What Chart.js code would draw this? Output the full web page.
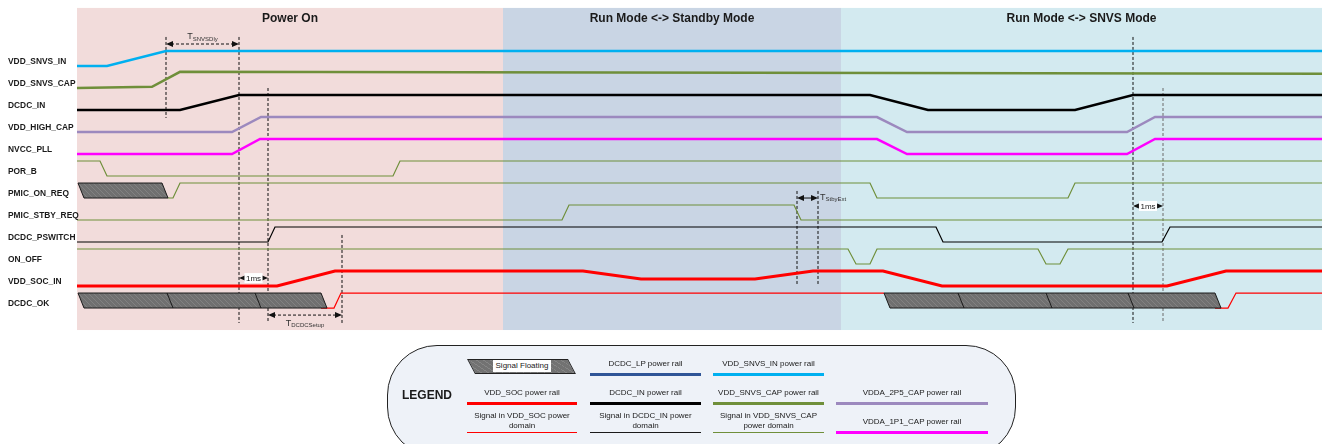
<!DOCTYPE html>
<html>
<head>
<meta charset="utf-8">
<title>Power sequencing timing</title>
<script src="https://cdn.jsdelivr.net/npm/chart.js@4.4.1/dist/chart.umd.min.js"></script>
<style>
  html, body { margin: 0; padding: 0; background: #fff; }
  #wrap { position: relative; width: 1324px; height: 444px; overflow: hidden;
          font-family: "Liberation Sans", Arial, sans-serif; color: #1a1a1a; }
  #chart { position: absolute; left: 0; top: 0; }
  .lg-box { position: absolute; left: 387px; top: 345px; width: 629px; height: 112px;
            box-sizing: border-box; border: 1px solid #222; border-radius: 50px;
            background: #eef2f8; }
  .lg-title { position: absolute; left: 395px; top: 388px; width: 64px; text-align: center;
              font-weight: bold; font-size: 12px; }
  .lg-cell { position: absolute; box-sizing: border-box; display: flex; flex-direction: column;
             justify-content: flex-end; text-align: center; font-size: 8px; line-height: 10px;
             padding-bottom: 2px; }
  .lg-float { position: absolute; left: 467px; top: 359px; width: 101px; height: 15px;
              box-sizing: border-box; border: 1px solid #222; transform-origin: top left;
              transform: skewX(28deg);
              background: repeating-linear-gradient(45deg, #727272 0 4px, #858585 4px 5px); }
  .lg-float-text { position: absolute; left: 493px; top: 360px; width: 58px; height: 12px;
                   background: #fff; font-size: 8px; line-height: 12px; text-align: center; }
</style>
</head>
<body>
<div id="wrap">
  <canvas id="chart" width="1324" height="444"></canvas>
</div>
<script>
// ---- diagram data ----
const AMP = 15 / 22;   // height of a high level, in row units
const SLANT = 6;       // lean of floating shapes, in time units

const rowLabels = [
  'VDD_SNVS_IN', 'VDD_SNVS_CAP', 'DCDC_IN', 'VDD_HIGH_CAP', 'NVCC_PLL', 'POR_B',
  'PMIC_ON_REQ', 'PMIC_STBY_REQ', 'DCDC_PSWITCH', 'ON_OFF', 'VDD_SOC_IN', 'DCDC_OK'
];

const phaseLabels = ['Power On', 'Run Mode <-> Standby Mode', 'Run Mode <-> SNVS Mode'];
const phaseEdges = [77, 503, 841, 1322];

// [time, level] : level 0 = low, 1 = high
const vddSnvsIn   = [[77,0],[107,0],[166,1],[1322,1]];
const vddSnvsCap  = [[77,0],[152,0.08],[180,1.08],[1322,0.95]];
const dcdcIn      = [[77,0],[180,0],[239,1],[870,1],[928,0],[1075,0],[1133,1],[1322,1]];
const vddHighCap  = [[77,0],[232,0],[261,1],[877,1],[907,0],[1127,0],[1155,1],[1322,1]];
const nvccPll     = [[77,0],[232,0],[260,1],[877,1],[907,0],[1127,0],[1155,1],[1322,1]];
const porB        = [[77,1],[100,1],[107,0],[393,0],[400,1],[1322,1]];
const pmicOnReq   = [[168,0],[173,0],[180,1],[870,1],[877,0],[1068,0],[1075,1],[1322,1]];
const pmicStbyReq = [[77,0],[562,0],[569,1],[794,1],[801,0],[1322,0]];
const dcdcPswitch = [[77,0],[268,0],[275,1],[936,1],[943,0],[1162,0],[1170,1],[1322,1]];
const onOff       = [[77,1],[848,1],[856,0],[870,0],[877,1],[1038,1],[1046,0],[1060,0],[1068,1],[1322,1]];
const vddSocIn    = [[77,0],[277,0],[335,1],[583,1],[641,0.47],[755,0.47],[813,1],[883,1],[942,0],[1167,0],[1226,1],[1322,1]];
const dcdcOkA     = [[321,0],[334,0],[341,1],[884,1]];
const dcdcOkB     = [[1215,0],[1228,0],[1236,1],[1322,1]];

// floating stretches: [row, [start, dividers..., end]]
const floating = [
  [6,  [78, 162]],
  [11, [78, 167, 255, 321]],
  [11, [884, 958, 1046, 1128, 1215]]
];

// dashed time markers: [time, fromRow, toRow]
const markers = [
  [166, -1.32, 2.36], [239, -1.32, 11.68], [268, 1, 11.68], [342, 7.68, 11.68],
  [797, 5.68, 9.95], [818, 5.68, 9.95], [1133, -1.32, 11.68], [1163, 1, 11.68]
];
const grayMarkers = [1163];

// timing spans: [from, to, row, text, subscript, label place]
const spans = [
  [166, 239, -1.0, 'T', 'SNVSDly', 'above'],
  [239, 268, 9.64, '1ms', '', 'box'],
  [268, 342, 11.32, 'T', 'DCDCSetup', 'below'],
  [797, 818, 6.0, 'T', 'StbyExt', 'right'],
  [1133, 1163, 6.36, '1ms', '', 'box']
];

// ---- styles ----
const PHASE_BG = ['#f2dcdb', '#c9d5e4', '#d3eaf0'];
const AREA_TOP = -2.64, AREA_BOTTOM = 12.0;
const FONT = '"Liberation Sans", Arial, sans-serif';
const C = { cyan: '#00b0f0', olive: '#6f8f3a', black: '#000', purple: '#9c89be', magenta: '#ff00ff', red: '#ff0000' };

const signals = [
  [0, vddSnvsIn, C.cyan, 2.5],
  [1, vddSnvsCap, C.olive, 2.5],
  [2, dcdcIn, C.black, 2.5],
  [3, vddHighCap, C.purple, 2.5],
  [4, nvccPll, C.magenta, 2.5],
  [5, porB, C.olive, 1.2],
  [6, pmicOnReq, C.olive, 1.2],
  [7, pmicStbyReq, C.olive, 1.2],
  [8, dcdcPswitch, C.black, 1.2],
  [9, onOff, C.olive, 1.2],
  [10, vddSocIn, C.red, 3],
  [11, dcdcOkA, C.red, 1.2],
  [11, dcdcOkB, C.red, 1.2]
];

function toPoints(row, steps) {
  return steps.map(([t, lvl]) => ({ x: t, y: row - lvl * AMP }));
}

const datasets = signals.map(([row, steps, color, width]) => ({
  data: toPoints(row, steps),
  showLine: true,
  borderColor: color,
  borderWidth: width,
  pointRadius: 0,
  fill: false,
  clip: false
}));

markers.forEach(([t, r0, r1]) => {
  datasets.push({
    data: [{ x: t, y: r0 }, { x: t, y: r1 }],
    showLine: true,
    borderColor: grayMarkers.includes(t) ? '#6a6a6a' : '#111',
    borderWidth: 1,
    borderDash: [3, 2],
    pointRadius: 0,
    fill: false
  });
});

function floatPath(ctx, x0, x1, s, yTop, yBot) {
  ctx.beginPath();
  ctx.moveTo(x0, yTop);
  ctx.lineTo(x1, yTop);
  ctx.lineTo(x1 + s, yBot);
  ctx.lineTo(x0 + s, yBot);
  ctx.closePath();
}

function arrowHead(ctx, xTip, yMid, dir) {
  ctx.beginPath();
  ctx.moveTo(xTip, yMid);
  ctx.lineTo(xTip - dir * 7, yMid - 3);
  ctx.lineTo(xTip - dir * 7, yMid + 3);
  ctx.closePath();
  ctx.fill();
}

const decor = {
  id: 'decor',
  beforeDatasetsDraw(chart) {
    const { ctx, scales: { x, y } } = chart;
    ctx.save();
    const yT = y.getPixelForValue(AREA_TOP), yB = y.getPixelForValue(AREA_BOTTOM);
    phaseLabels.forEach((label, i) => {
      const xa = x.getPixelForValue(phaseEdges[i]), xb = x.getPixelForValue(phaseEdges[i + 1]);
      ctx.fillStyle = PHASE_BG[i];
      ctx.fillRect(xa, yT, xb - xa, yB - yT);
      ctx.fillStyle = '#1a1a1a';
      ctx.font = 'bold 12px ' + FONT;
      ctx.textAlign = 'center';
      ctx.textBaseline = 'middle';
      ctx.fillText(label, (xa + xb) / 2, y.getPixelForValue(-2.14));
    });
    ctx.restore();
  },
  afterDatasetsDraw(chart) {
    const { ctx, scales: { x, y } } = chart;
    const px = t => x.getPixelForValue(t);
    ctx.save();

    // row labels
    ctx.fillStyle = '#1a1a1a';
    ctx.font = 'bold 8.4px ' + FONT;
    ctx.textAlign = 'left';
    ctx.textBaseline = 'middle';
    rowLabels.forEach((name, i) => ctx.fillText(name, px(8), y.getPixelForValue(i - 0.18)));

    // floating signal shapes
    floating.forEach(([row, edges]) => {
      const yTop = y.getPixelForValue(row - AMP), yBot = y.getPixelForValue(row);
      const s = px(SLANT) - px(0);
      const x0 = px(edges[0]), x1 = px(edges[edges.length - 1]);
      floatPath(ctx, x0, x1, s, yTop, yBot);
      ctx.fillStyle = '#707070';
      ctx.fill();
      ctx.save();
      ctx.clip();
      ctx.strokeStyle = 'rgba(255,255,255,0.16)';
      ctx.lineWidth = 0.8;
      const h = yBot - yTop;
      for (let hx = x0 - h; hx < x1 + s; hx += 5) {
        ctx.beginPath();
        ctx.moveTo(hx, yTop);
        ctx.lineTo(hx + h, yBot);
        ctx.stroke();
      }
      ctx.restore();
      ctx.strokeStyle = '#1a1a1a';
      ctx.lineWidth = 1;
      floatPath(ctx, x0, x1, s, yTop, yBot);
      ctx.stroke();
      edges.slice(1, -1).forEach(e => {
        ctx.beginPath();
        ctx.moveTo(px(e), yTop);
        ctx.lineTo(px(e) + s, yBot);
        ctx.stroke();
      });
    });

    // timing spans
    spans.forEach(([from, to, row, text, sub, place]) => {
      const xa = px(from), xb = px(to), ym = y.getPixelForValue(row);
      ctx.fillStyle = '#111';
      ctx.strokeStyle = '#111';
      ctx.lineWidth = 1;
      ctx.setLineDash(place === 'above' || place === 'below' ? [3, 2] : []);
      ctx.beginPath();
      ctx.moveTo(xa + 5, ym);
      ctx.lineTo(xb - 5, ym);
      ctx.stroke();
      ctx.setLineDash([]);
      arrowHead(ctx, xa, ym, -1);
      arrowHead(ctx, xb, ym, 1);

      ctx.textBaseline = 'middle';
      if (place === 'box') {
        ctx.font = '8px ' + FONT;
        const w = ctx.measureText(text).width + 3;
        const cx = (xa + xb) / 2;
        ctx.fillStyle = '#fff';
        ctx.fillRect(cx - w / 2, ym - 5, w, 10);
        ctx.fillStyle = '#222';
        ctx.textAlign = 'center';
        ctx.fillText(text, cx, ym + 0.5);
        return;
      }
      ctx.font = '9px ' + FONT;
      const wT = ctx.measureText(text).width;
      ctx.font = '6px ' + FONT;
      const wS = ctx.measureText(sub).width;
      let lx, ly;
      if (place === 'right') {
        lx = xb + 2;
        ly = ym - 1;
      } else {
        lx = (xa + xb) / 2 - (wT + wS) / 2;
        ly = ym + (place === 'above' ? -7 : 8);
      }
      ctx.fillStyle = '#333';
      ctx.textAlign = 'left';
      ctx.font = '9px ' + FONT;
      ctx.fillText(text, lx, ly);
      ctx.font = '6px ' + FONT;
      ctx.fillText(sub, lx + wT, ly + 2);
    });

    ctx.restore();
  }
};

new Chart(document.getElementById('chart'), {
  type: 'scatter',
  data: { datasets },
  options: {
    responsive: false,
    animation: false,
    events: [],
    layout: { padding: 0 },
    plugins: { legend: { display: false }, tooltip: { enabled: false } },
    scales: {
      x: { type: 'linear', display: false, min: 0, max: 1324 },
      y: { type: 'linear', display: false, min: -3, max: 17.18, reverse: true }
    },
    elements: { line: { tension: 0, borderCapStyle: 'butt', borderJoinStyle: 'miter' } }
  },
  plugins: [decor]
});

// ---- legend panel ----
const legendCols = [[467, 110], [590, 111], [713, 111], [836, 152]];
const legendLineY = [374, 403, 432];
const legendItems = [
  [1, 0, 'DCDC_LP power rail', '#2f5597', 3],
  [2, 0, 'VDD_SNVS_IN power rail', C.cyan, 3],
  [0, 1, 'VDD_SOC power rail', C.red, 3],
  [1, 1, 'DCDC_IN power rail', C.black, 3],
  [2, 1, 'VDD_SNVS_CAP power rail', C.olive, 3],
  [3, 1, 'VDDA_2P5_CAP power rail', C.purple, 3],
  [0, 2, 'Signal in VDD_SOC power<br>domain', C.red, 1],
  [1, 2, 'Signal in DCDC_IN power<br>domain', '#1a1a1a', 1],
  [2, 2, 'Signal in VDD_SNVS_CAP<br>power domain', C.olive, 1],
  [3, 2, 'VDDA_1P1_CAP power rail', C.magenta, 3]
];

const wrap = document.getElementById('wrap');
function addEl(cls, html, style) {
  const el = document.createElement('div');
  el.className = cls;
  el.innerHTML = html;
  Object.assign(el.style, style || {});
  wrap.appendChild(el);
  return el;
}
addEl('lg-box', '');
addEl('lg-title', 'LEGEND');
addEl('lg-float', '');
addEl('lg-float-text', 'Signal Floating');
legendItems.forEach(([col, row, text, color, w]) => {
  const [left, width] = legendCols[col];
  const h = 28;
  addEl('lg-cell', '<span>' + text + '</span>', {
    left: left + 'px',
    width: width + 'px',
    height: h + 'px',
    top: (legendLineY[row] + w / 2 - h) + 'px',
    borderBottom: w + 'px solid ' + color,
    paddingBottom: (row === 2 && col < 3 ? 1 : 4) + 'px'
  });
});
</script>
</body>
</html>
